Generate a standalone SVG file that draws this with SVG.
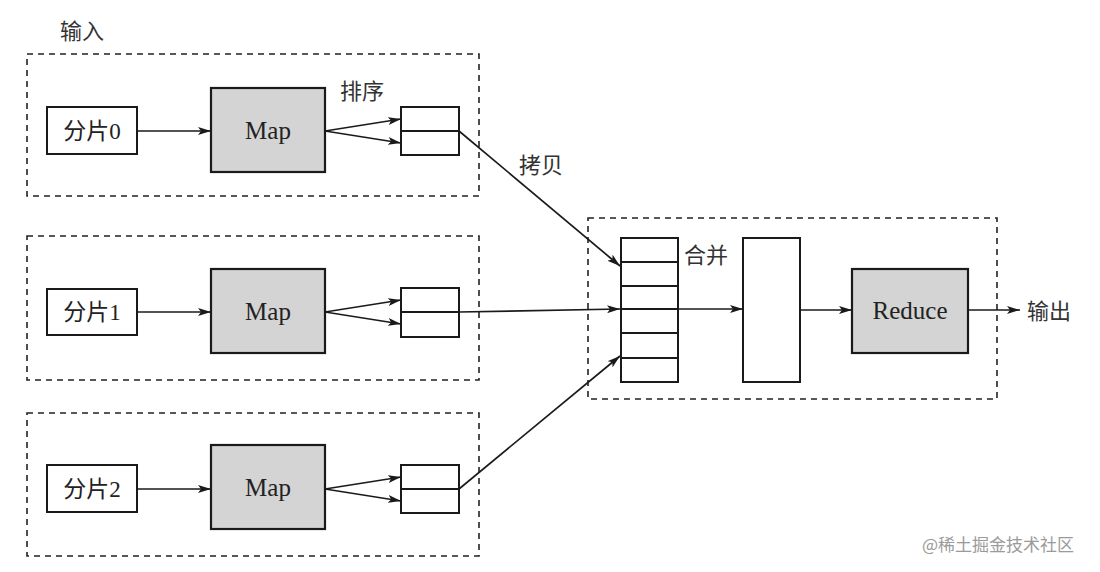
<svg xmlns="http://www.w3.org/2000/svg" width="1100" height="572" viewBox="0 0 1100 572">
<style>
.bg{fill:#ffffff}
.dash{fill:none;stroke:#222;stroke-width:1.6;stroke-dasharray:6 5}
.box{fill:#fff;stroke:#1a1a1a;stroke-width:2}
.map{fill:#d4d4d4;stroke:#1a1a1a;stroke-width:2.2}
.ln{fill:none;stroke:#1a1a1a;stroke-width:1.7}
.div{stroke:#1a1a1a;stroke-width:2.2}
.t{font-family:"Liberation Serif","Noto Sans CJK SC",serif;fill:#222;font-size:23px}
.lab{font-family:"Noto Sans CJK SC","Noto Sans CJK JP",sans-serif;fill:#333;font-size:22px}
.big{font-family:"Liberation Serif","Noto Sans CJK SC",serif;fill:#222;font-size:25px}
.wm{font-family:"Noto Sans CJK SC",sans-serif;fill:#9a9a9a;font-size:17px}
</style>
<defs>
<marker id="ah" viewBox="0 0 13 8" refX="13" refY="4" markerWidth="13" markerHeight="8" markerUnits="userSpaceOnUse" orient="auto">
<path d="M0,0 L13,4 L0,8 L3,4 Z" fill="#1a1a1a"/>
</marker>
</defs>
<rect class="bg" x="0" y="0" width="1100" height="572"/>

<text class="lab" x="60" y="39">输入</text>

<g id="input0">
<rect class="dash" x="27" y="54" width="452" height="142"/>
</g>
<g id="input1">
<rect class="dash" x="27" y="236" width="452" height="144"/>
</g>
<g id="input2">
<rect class="dash" x="27" y="413" width="452" height="143"/>
</g>
<g id="reduce-group">
<rect class="dash" x="588" y="218" width="409" height="181"/>
</g>

<g id="split0">
<rect class="box" x="47" y="107" width="90" height="47"/>
<text class="t" x="92" y="139" text-anchor="middle">分片0</text>
</g>
<g id="split1">
<rect class="box" x="47" y="289" width="90" height="46"/>
<text class="t" x="92" y="320" text-anchor="middle">分片1</text>
</g>
<g id="split2">
<rect class="box" x="47" y="465" width="90" height="47"/>
<text class="t" x="92" y="497" text-anchor="middle">分片2</text>
</g>

<g id="map0">
<rect class="map" x="211" y="88" width="114" height="84"/>
<text class="big" x="268" y="139" text-anchor="middle">Map</text>
</g>
<g id="map1">
<rect class="map" x="211" y="269" width="114" height="84"/>
<text class="big" x="268" y="320" text-anchor="middle">Map</text>
</g>
<g id="map2">
<rect class="map" x="211" y="445" width="114" height="84"/>
<text class="big" x="268" y="496" text-anchor="middle">Map</text>
</g>

<text class="lab" x="340" y="99">排序</text>

<g id="buf0">
<rect class="box" x="401" y="107" width="58" height="48"/>
<line class="div" x1="401" y1="131" x2="459" y2="131"/>
</g>
<g id="buf1">
<rect class="box" x="401" y="288" width="58" height="49"/>
<line class="div" x1="401" y1="312" x2="459" y2="312"/>
</g>
<g id="buf2">
<rect class="box" x="401" y="465" width="58" height="48"/>
<line class="div" x1="401" y1="489" x2="459" y2="489"/>
</g>

<text class="lab" x="519" y="173">拷贝</text>

<g id="merge-stack">
<rect class="box" x="621" y="238" width="57" height="144"/>
<line class="div" x1="621" y1="262" x2="678" y2="262"/>
<line class="div" x1="621" y1="286" x2="678" y2="286"/>
<line class="div" x1="621" y1="309" x2="678" y2="309"/>
<line class="div" x1="621" y1="333" x2="678" y2="333"/>
<line class="div" x1="621" y1="358" x2="678" y2="358"/>
</g>
<text class="lab" x="684" y="263">合并</text>

<g id="merged">
<rect class="box" x="743" y="238" width="57" height="144"/>
</g>

<g id="reduce">
<rect class="map" x="852" y="269" width="116" height="84"/>
<text class="big" x="910" y="319" text-anchor="middle">Reduce</text>
</g>

<text class="lab" x="1027" y="319">输出</text>

<g id="connectors">
<line class="ln" x1="137" y1="131" x2="211" y2="131" marker-end="url(#ah)"/>
<line class="ln" x1="137" y1="312" x2="211" y2="312" marker-end="url(#ah)"/>
<line class="ln" x1="137" y1="489" x2="211" y2="489" marker-end="url(#ah)"/>

<line class="ln" x1="325" y1="131" x2="401" y2="119" marker-end="url(#ah)"/>
<line class="ln" x1="325" y1="131" x2="401" y2="143" marker-end="url(#ah)"/>
<line class="ln" x1="325" y1="312" x2="401" y2="300" marker-end="url(#ah)"/>
<line class="ln" x1="325" y1="312" x2="401" y2="324" marker-end="url(#ah)"/>
<line class="ln" x1="325" y1="489" x2="401" y2="477" marker-end="url(#ah)"/>
<line class="ln" x1="325" y1="489" x2="401" y2="501" marker-end="url(#ah)"/>

<line class="ln" x1="459" y1="131" x2="620" y2="266" marker-end="url(#ah)"/>
<line class="ln" x1="459" y1="312" x2="620" y2="309" marker-end="url(#ah)"/>
<line class="ln" x1="459" y1="489" x2="620" y2="356" marker-end="url(#ah)"/>

<line class="ln" x1="678" y1="309" x2="743" y2="309" marker-end="url(#ah)"/>
<line class="ln" x1="800" y1="310" x2="852" y2="310" marker-end="url(#ah)"/>
<line class="ln" x1="968" y1="310" x2="1020" y2="310" marker-end="url(#ah)"/>
</g>

<text class="wm" x="922" y="551">@稀土掘金技术社区</text>
</svg>
